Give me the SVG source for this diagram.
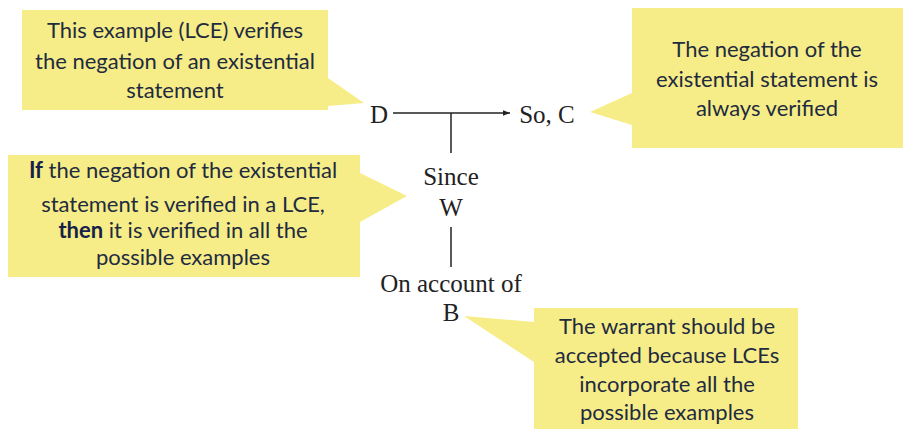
<svg xmlns="http://www.w3.org/2000/svg" width="903" height="429" viewBox="0 0 903 429">
<style>
.callout{fill:#f6ed88;stroke:none}
.ct{font-family:Lato,"Liberation Sans",sans-serif;font-size:22px;fill:#1f2b3f;text-anchor:middle}
.b{font-weight:bold;fill:#16214a}
.tm{font-family:"Liberation Serif","Times New Roman",serif;font-size:25px;fill:#222;text-anchor:middle}
.ln{stroke:#222;stroke-width:1.5;fill:none}
</style>
<defs>
<marker id="ah" viewBox="0 0 10 10" refX="10" refY="5" markerWidth="7" markerHeight="7" orient="auto" markerUnits="userSpaceOnUse">
<path d="M0,1 L10,5 L0,9 z" fill="#222"/>
</marker>
</defs>
<rect width="903" height="429" fill="#fff"/>
<g id="note-d">
<path class="callout" d="M22,10 H328 V78 L364,103 L328,106 V110 H22 Z"/>
<text class="ct" x="175" y="38">This example (LCE) verifies</text>
<text class="ct" x="175" y="69">the negation of an existential</text>
<text class="ct" x="175" y="98">statement</text>
</g>
<g id="note-c">
<path class="callout" d="M632,8 H903 V148 H632 V125 L590,112 L632,93 Z"/>
<text class="ct" x="767" y="57">The negation of the</text>
<text class="ct" x="767" y="87">existential statement is</text>
<text class="ct" x="767" y="116">always verified</text>
</g>
<g id="note-w">
<path class="callout" d="M8,155 H360 V173 L407,196 L360,222 V277 H8 Z"/>
<text class="ct" x="183" y="178"><tspan class="b">If</tspan> the negation of the existential</text>
<text class="ct" x="183" y="212">statement is verified in a LCE,</text>
<text class="ct" x="183" y="238"><tspan class="b">then</tspan> it is verified in all the</text>
<text class="ct" x="183" y="265">possible examples</text>
</g>
<g id="note-b">
<path class="callout" d="M534,308 H798 V429 H534 V362 L464,316 L534,322 Z"/>
<text class="ct" x="667" y="334">The warrant should be</text>
<text class="ct" x="667" y="363">accepted because LCEs</text>
<text class="ct" x="667" y="392">incorporate all the</text>
<text class="ct" x="667" y="420">possible examples</text>
</g>
<g id="D"><text class="tm" x="379" y="123">D</text></g>
<g id="C"><text class="tm" x="547" y="123">So, C</text></g>
<g id="W"><text class="tm" x="451" y="185">Since</text><text class="tm" x="451" y="216">W</text></g>
<g id="B"><text class="tm" x="451" y="292">On account of</text><text class="tm" x="451" y="321">B</text></g>
<g id="connectors">
<line class="ln" x1="393" y1="113" x2="510" y2="113" marker-end="url(#ah)"/>
<line class="ln" x1="451" y1="113" x2="451" y2="153"/>
<line class="ln" x1="451" y1="227" x2="451" y2="267"/>
</g>
</svg>
